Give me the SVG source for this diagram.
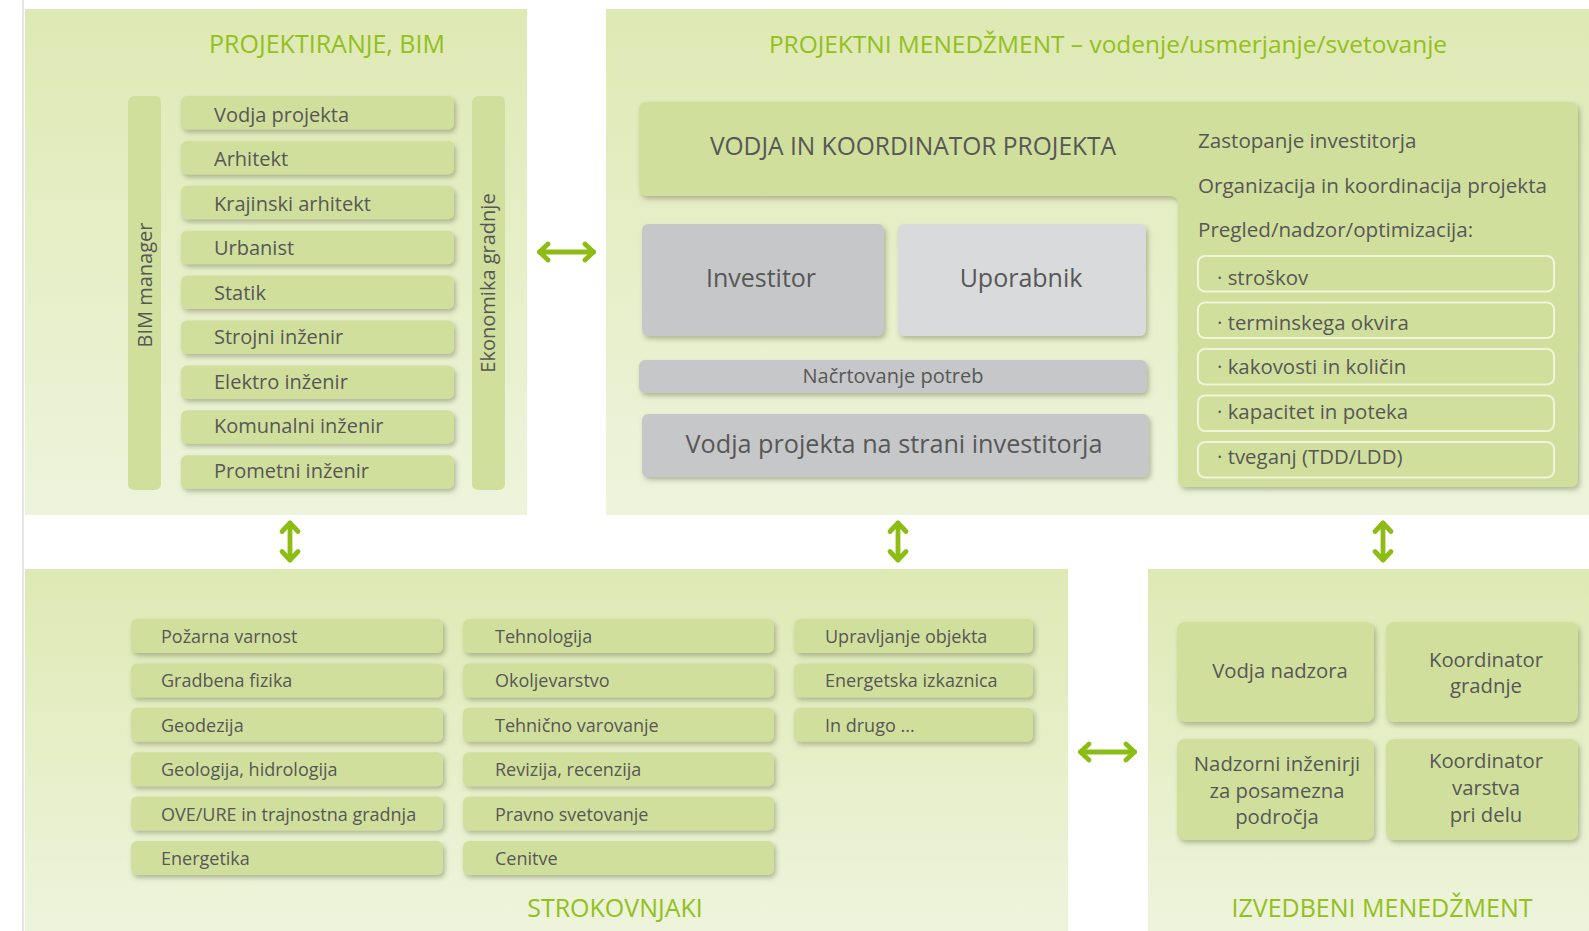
<svg xmlns="http://www.w3.org/2000/svg" width="1589" height="931" viewBox="0 0 1589 931">
<defs>
  <linearGradient id="pg" x1="0" y1="0" x2="0" y2="1">
    <stop offset="0" stop-color="#dfe9b4"/>
    <stop offset="1" stop-color="#eef4dc"/>
  </linearGradient>
  <filter id="sh" x="-10%" y="-30%" width="125%" height="180%">
    <feDropShadow dx="2" dy="3" stdDeviation="2.6" flood-color="#6e6e50" flood-opacity="0.45"/>
  </filter>
  <marker id="ah" viewBox="-12 -12 24 24" markerWidth="24" markerHeight="24" refX="0" refY="0" orient="auto-start-reverse" markerUnits="userSpaceOnUse">
    <path d="M-8.5,-8 L0,0 L-8.5,8" fill="none" stroke="#8dbd14" stroke-width="4.8" stroke-linecap="round" stroke-linejoin="round"/>
  </marker>
</defs>
<style>
  text{font-family:"Open Sans","Noto Sans",sans-serif;fill:#575757}
  .panel{fill:url(#pg)}
  .ttl{font-size:25px;fill:#92c01d;text-anchor:middle}
  .item{fill:#d1df9c;filter:url(#sh)}
  .bar{fill:#d1df9c}
  .gray{fill:#c6c7c8;filter:url(#sh)}
  .lgray{fill:#d9dadb;filter:url(#sh)}
  .t20{font-size:20px}
  .t18{font-size:18px}
  .t206{font-size:20.6px}
  .t204{font-size:20.4px}
  .t203{font-size:20.3px}
  .mid{text-anchor:middle}
  .ol{fill:none;stroke:#eff4da;stroke-width:2}
  .conn{stroke:#8dbd14;stroke-width:4.8;fill:none;stroke-linecap:round;marker-start:url(#ah);marker-end:url(#ah)}
</style>
<rect x="0" y="0" width="1589" height="931" fill="#ffffff"/>
<line x1="23" y1="0" x2="23" y2="931" stroke="#dcdcdc" stroke-width="1.5"/>

<g id="panel-projektiranje">
  <rect class="panel" x="25" y="9" width="502" height="506"/>
  <text class="ttl" x="327" y="53">PROJEKTIRANJE, BIM</text>
  <g id="bim-manager">
    <rect class="bar" x="128" y="96" width="33" height="394" rx="6"/>
    <text class="t20 mid" transform="translate(152,285) rotate(-90)">BIM manager</text>
  </g>
  <g id="ekonomika-gradnje">
    <rect class="bar" x="472" y="96" width="33" height="394" rx="6"/>
    <text class="t20 mid" transform="translate(495,283) rotate(-90)">Ekonomika gradnje</text>
  </g>
  <g id="p1-vodja"><rect class="item" x="181" y="96" width="273" height="33.5" rx="6"/><text class="t20" x="214" y="121.5">Vodja projekta</text></g>
  <g id="p1-arhitekt"><rect class="item" x="181" y="140.9" width="273" height="33.5" rx="6"/><text class="t20" x="214" y="166">Arhitekt</text></g>
  <g id="p1-krajinski"><rect class="item" x="181" y="185.8" width="273" height="33.5" rx="6"/><text class="t20" x="214" y="210.5">Krajinski arhitekt</text></g>
  <g id="p1-urbanist"><rect class="item" x="181" y="230.7" width="273" height="33.5" rx="6"/><text class="t20" x="214" y="255">Urbanist</text></g>
  <g id="p1-statik"><rect class="item" x="181" y="275.6" width="273" height="33.5" rx="6"/><text class="t20" x="214" y="299.5">Statik</text></g>
  <g id="p1-strojni"><rect class="item" x="181" y="320.5" width="273" height="33.5" rx="6"/><text class="t20" x="214" y="344">Strojni inženir</text></g>
  <g id="p1-elektro"><rect class="item" x="181" y="365.4" width="273" height="33.5" rx="6"/><text class="t20" x="214" y="388.5">Elektro inženir</text></g>
  <g id="p1-komunalni"><rect class="item" x="181" y="410.3" width="273" height="33.5" rx="6"/><text class="t20" x="214" y="433">Komunalni inženir</text></g>
  <g id="p1-prometni"><rect class="item" x="181" y="455.2" width="273" height="33.5" rx="6"/><text class="t20" x="214" y="477.5">Prometni inženir</text></g>
</g>

<g id="panel-menedzment">
  <rect class="panel" x="606" y="9" width="983" height="506"/>
  <text class="ttl" x="1108" y="53" style="font-size:24.45px">PROJEKTNI MENEDŽMENT – vodenje/usmerjanje/svetovanje</text>
  <g id="vodja-koordinator">
    <path class="item" d="M647,102 H1570 Q1578,102 1578,110 V479 Q1578,487 1570,487 H1186 Q1178,487 1178,479 V204 Q1178,196 1170,196 H647 Q639,196 639,188 V110 Q639,102 647,102 Z"/>
    <text class="mid" style="font-size:24.55px" x="913" y="155">VODJA IN KOORDINATOR PROJEKTA</text>
    <text class="t206" x="1198" y="148">Zastopanje investitorja</text>
    <text class="t206" x="1198" y="192.5">Organizacija in koordinacija projekta</text>
    <text class="t206" x="1198" y="236.5">Pregled/nadzor/optimizacija:</text>
  </g>
  <g id="pm-stroskov"><rect class="ol" x="1198" y="256" width="356" height="35.5" rx="7"/><text class="t204" x="1217" y="284.5">· stroškov</text></g>
  <g id="pm-termin"><rect class="ol" x="1198" y="302.5" width="356" height="35.5" rx="7"/><text class="t204" x="1217" y="329.5">· terminskega okvira</text></g>
  <g id="pm-kakovost"><rect class="ol" x="1198" y="349" width="356" height="35.5" rx="7"/><text class="t204" x="1217" y="374">· kakovosti in količin</text></g>
  <g id="pm-kapacitet"><rect class="ol" x="1198" y="395.5" width="356" height="35.5" rx="7"/><text class="t204" x="1217" y="418.5">· kapacitet in poteka</text></g>
  <g id="pm-tveganj"><rect class="ol" x="1198" y="442" width="356" height="35.5" rx="7"/><text class="t204" x="1217" y="463.5">· tveganj (TDD/LDD)</text></g>
  <g id="investitor"><rect class="gray" x="642" y="224" width="242" height="112" rx="6"/><text class="mid" style="font-size:25px" x="761" y="287">Investitor</text></g>
  <g id="uporabnik"><rect class="lgray" x="898" y="224" width="248" height="112" rx="6"/><text class="mid" style="font-size:25px" x="1021" y="287">Uporabnik</text></g>
  <g id="nacrtovanje"><rect class="gray" x="639" y="360" width="508" height="33" rx="6"/><text class="t20 mid" x="893" y="383.3">Načrtovanje potreb</text></g>
  <g id="vodja-investitor"><rect class="gray" x="642" y="414" width="507" height="63" rx="6"/><text class="mid" style="font-size:25.2px" x="894" y="452.5">Vodja projekta na strani investitorja</text></g>
</g>

<g id="panel-strokovnjaki">
  <rect class="panel" x="25" y="569" width="1043" height="362"/>
  <text class="ttl" x="615" y="917">STROKOVNJAKI</text>
  <g id="s-pozarna"><rect class="item" x="131" y="619" width="312" height="34" rx="6"/><text class="t18" x="161" y="643">Požarna varnost</text></g>
  <g id="s-gradbena"><rect class="item" x="131" y="663.4" width="312" height="34" rx="6"/><text class="t18" x="161" y="687.4">Gradbena fizika</text></g>
  <g id="s-geodezija"><rect class="item" x="131" y="707.8" width="312" height="34" rx="6"/><text class="t18" x="161" y="731.8">Geodezija</text></g>
  <g id="s-geologija"><rect class="item" x="131" y="752.2" width="312" height="34" rx="6"/><text class="t18" x="161" y="776.2">Geologija, hidrologija</text></g>
  <g id="s-ove"><rect class="item" x="131" y="796.6" width="312" height="34" rx="6"/><text class="t18" x="161" y="820.6">OVE/URE in trajnostna gradnja</text></g>
  <g id="s-energetika"><rect class="item" x="131" y="841" width="312" height="34" rx="6"/><text class="t18" x="161" y="865">Energetika</text></g>
  <g id="s-tehnologija"><rect class="item" x="463" y="619" width="311" height="34" rx="6"/><text class="t18" x="495" y="643">Tehnologija</text></g>
  <g id="s-okoljevarstvo"><rect class="item" x="463" y="663.4" width="311" height="34" rx="6"/><text class="t18" x="495" y="687.4">Okoljevarstvo</text></g>
  <g id="s-tehnicno"><rect class="item" x="463" y="707.8" width="311" height="34" rx="6"/><text class="t18" x="495" y="731.8">Tehnično varovanje</text></g>
  <g id="s-revizija"><rect class="item" x="463" y="752.2" width="311" height="34" rx="6"/><text class="t18" x="495" y="776.2">Revizija, recenzija</text></g>
  <g id="s-pravno"><rect class="item" x="463" y="796.6" width="311" height="34" rx="6"/><text class="t18" x="495" y="820.6">Pravno svetovanje</text></g>
  <g id="s-cenitve"><rect class="item" x="463" y="841" width="311" height="34" rx="6"/><text class="t18" x="495" y="865">Cenitve</text></g>
  <g id="s-upravljanje"><rect class="item" x="794" y="619" width="239" height="34" rx="6"/><text class="t18" x="825" y="643">Upravljanje objekta</text></g>
  <g id="s-energetska"><rect class="item" x="794" y="663.4" width="239" height="34" rx="6"/><text class="t18" x="825" y="687.4">Energetska izkaznica</text></g>
  <g id="s-drugo"><rect class="item" x="794" y="707.8" width="239" height="34" rx="6"/><text class="t18" x="825" y="731.8">In drugo ...</text></g>
</g>

<g id="panel-izvedbeni">
  <rect class="panel" x="1148" y="569" width="441" height="362"/>
  <text class="ttl" x="1382" y="917">IZVEDBENI MENEDŽMENT</text>
  <g id="vodja-nadzora"><rect class="item" x="1177" y="622" width="197" height="100" rx="8"/><text class="t203 mid" x="1280" y="678">Vodja nadzora</text></g>
  <g id="koordinator-gradnje"><rect class="item" x="1386" y="622" width="192" height="100" rx="8"/><text class="t203 mid" x="1486" y="667">Koordinator</text><text class="t203 mid" x="1486" y="693">gradnje</text></g>
  <g id="nadzorni-inzenirji"><rect class="item" x="1177" y="739" width="197" height="101" rx="8"/><text class="t203 mid" x="1277" y="771">Nadzorni inženirji</text><text class="t203 mid" x="1277" y="797.5">za posamezna</text><text class="t203 mid" x="1277" y="824">področja</text></g>
  <g id="koordinator-varstva"><rect class="item" x="1386" y="739" width="192" height="101" rx="8"/><text class="t203 mid" x="1486" y="768">Koordinator</text><text class="t203 mid" x="1486" y="795">varstva</text><text class="t203 mid" x="1486" y="822">pri delu</text></g>
</g>

<g id="connectors">
  <line class="conn" x1="539.5" y1="252" x2="593.5" y2="252"/>
  <line class="conn" x1="290" y1="523" x2="290" y2="560"/>
  <line class="conn" x1="898" y1="523" x2="898" y2="560"/>
  <line class="conn" x1="1383" y1="523" x2="1383" y2="560"/>
  <line class="conn" x1="1080.5" y1="752" x2="1134.5" y2="752"/>
</g>
</svg>
